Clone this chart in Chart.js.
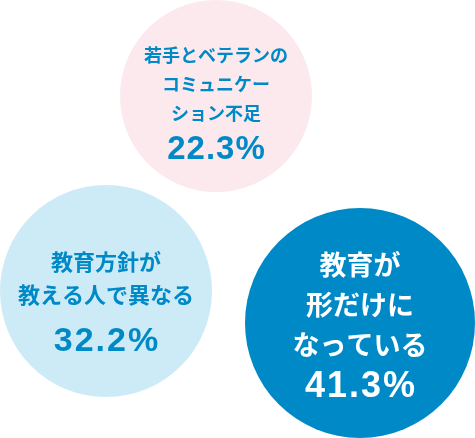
<!DOCTYPE html>
<html>
<head>
<meta charset="utf-8">
<script src="https://cdn.jsdelivr.net/npm/chart.js@4"></script>
<style>
  html, body { margin: 0; padding: 0; background: #fff; }
  #wrap { width: 475px; height: 438px; }
</style>
</head>
<body>
<div id="wrap"><canvas id="myChart"></canvas></div>
<script>
// data
const categories = [
  ['若手とベテランの', 'コミュニケー', 'ション不足'],
  ['教育方針が', '教える人で異なる'],
  ['教育が', '形だけに', 'なっている']
];
const percents = [22.3, 32.2, 41.3];
const bubbleX = [216, 106, 360];
const bubbleY = [96, 291, 323];
const bubbleR = [96, 106, 115];

const fills = ['#fce9ee', '#cdebf7', '#0089c7'];
const textColors = ['#0089c7', '#0089c7', '#ffffff'];

// text layout per bubble: label size, line gap, pct size, pct offset from last line, first line offset
const textStyle = [
  { size: 18, gap: 29, pct: 33, pctGap: 37, lineY: -41, sp: 1 },
  { size: 22, gap: 33, pct: 34, pctGap: 47, lineY: -29, sp: 2 },
  { size: 27, gap: 40, pct: 36, pctGap: 42, lineY: -58, sp: 2 }
];

const labelPlugin = {
  id: 'bubbleLabels',
  afterDatasetsDraw(chart) {
    const ctx = chart.ctx;
    const meta = chart.getDatasetMeta(0);
    meta.data.forEach((el, i) => {
      const st = textStyle[i];
      ctx.save();
      ctx.fillStyle = textColors[i];
      ctx.textAlign = 'center';
      ctx.textBaseline = 'middle';
      ctx.font = 'bold ' + st.size + 'px "Noto Sans CJK JP"';
      let y = el.y + st.lineY;
      categories[i].forEach((line, k) => {
        ctx.fillText(line, el.x, y + k * st.gap);
      });
      const last = y + (categories[i].length - 1) * st.gap;
      ctx.font = 'bold ' + st.pct + 'px "Liberation Sans"';
      ctx.letterSpacing = st.sp + 'px';
      ctx.fillText(percents[i].toFixed(1) + '%', el.x + st.sp / 2, last + st.pctGap);
      ctx.restore();
    });
  }
};

const data = {
  datasets: [{
    data: percents.map((p, i) => ({ x: bubbleX[i], y: bubbleY[i], r: bubbleR[i], v: p })),
    backgroundColor: fills,
    borderWidth: 0,
    hoverRadius: 0,
    clip: false
  }]
};

const config = {
  type: 'bubble',
  data,
  options: {
    responsive: true,
    maintainAspectRatio: false,
    animation: false,
    events: [],
    layout: { padding: 0, autoPadding: false },
    plugins: { legend: { display: false }, tooltip: { enabled: false } },
    scales: {
      x: { type: 'linear', min: 0, max: 475, display: false },
      y: { type: 'linear', min: 0, max: 438, reverse: true, display: false }
    }
  },
  plugins: [labelPlugin]
};

const myChart = new Chart(document.getElementById('myChart'), config);
</script>
</body>
</html>
